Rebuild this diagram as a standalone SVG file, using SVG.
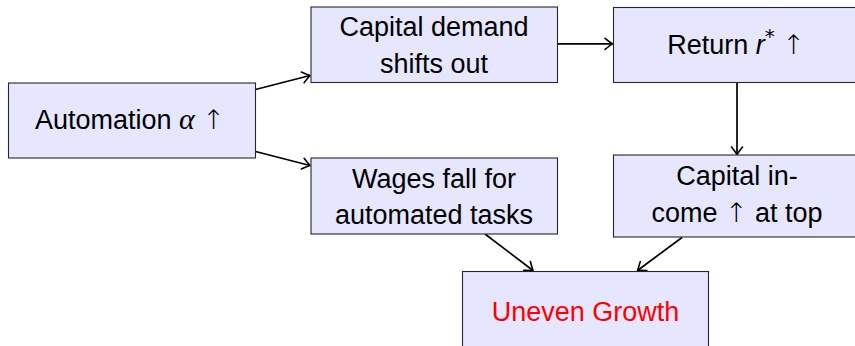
<svg xmlns="http://www.w3.org/2000/svg" width="855" height="346" viewBox="0 0 855 346">
  <style>
    .box { fill: #e6e6ff; stroke: #262626; stroke-width: 1.1; }
    .lbl { font-family: "Liberation Sans", Arial, sans-serif; font-size: 27px; fill: #000; text-anchor: middle; }
    .red { fill: #ff0000; }
    .edge { fill: none; stroke: #000; stroke-width: 1.7; }
    .math { font-family: "Liberation Serif", serif; font-style: italic; font-size: 30px; }
    .up { font-family: "DejaVu Sans", sans-serif; font-weight: 200; }
  </style>
  <defs>
    <marker id="arrow" viewBox="-9 -7 11 14" refX="0" refY="0" markerWidth="11" markerHeight="14" markerUnits="userSpaceOnUse" orient="auto">
      <path d="M -7.5 -5.5 Q -2.2 -1.4 0 0 Q -2.2 1.4 -7.5 5.5" fill="none" stroke="#000" stroke-width="1.6" stroke-linecap="round" stroke-linejoin="round"/>
    </marker>
  </defs>
  <rect width="855" height="346" fill="#ffffff"/>

  <g id="connectors">
    <path class="edge" d="M 255.5 89.5 L 310 75.5" marker-end="url(#arrow)"/>
    <path class="edge" d="M 255.5 151.5 L 310 165.5" marker-end="url(#arrow)"/>
    <path class="edge" d="M 557.5 43.8 L 612.5 43.8" marker-end="url(#arrow)"/>
    <path class="edge" d="M 737 82.5 L 737 154.5" marker-end="url(#arrow)"/>
    <path class="edge" d="M 485 234 L 533 270.5" marker-end="url(#arrow)"/>
    <path class="edge" d="M 682 237.5 L 637.5 270.5" marker-end="url(#arrow)"/>
  </g>

  <g id="automation">
    <rect class="box" x="8.5" y="83" width="247" height="75"/>
    <text class="lbl" x="130" y="129">Automation <tspan class="math">α</tspan> <tspan class="up">↑</tspan></text>
  </g>

  <g id="capital-demand">
    <rect class="box" x="311" y="7" width="246.5" height="75.5"/>
    <text class="lbl" x="434" y="36">Capital demand</text>
    <text class="lbl" x="434" y="73">shifts out</text>
  </g>

  <g id="return">
    <rect class="box" x="613.5" y="7.5" width="250" height="75"/>
    <text class="lbl" x="736" y="54">Return <tspan font-style="italic">r</tspan><tspan font-size="20" dy="-11" font-family="DejaVu Sans, sans-serif">*</tspan><tspan dy="11"> </tspan><tspan class="up">↑</tspan></text>
  </g>

  <g id="wages">
    <rect class="box" x="311" y="158" width="246.5" height="76"/>
    <text class="lbl" x="434" y="188">Wages fall for</text>
    <text class="lbl" x="434" y="224">automated tasks</text>
  </g>

  <g id="capital-income">
    <rect class="box" x="613.5" y="155" width="250" height="82"/>
    <text class="lbl" x="737" y="185">Capital in-</text>
    <text class="lbl" x="737" y="222">come <tspan class="up">↑</tspan> at top</text>
  </g>

  <g id="uneven-growth">
    <rect class="box" x="462.5" y="271.5" width="246" height="100"/>
    <text class="lbl red" x="585.5" y="320.5">Uneven Growth</text>
  </g>
</svg>
